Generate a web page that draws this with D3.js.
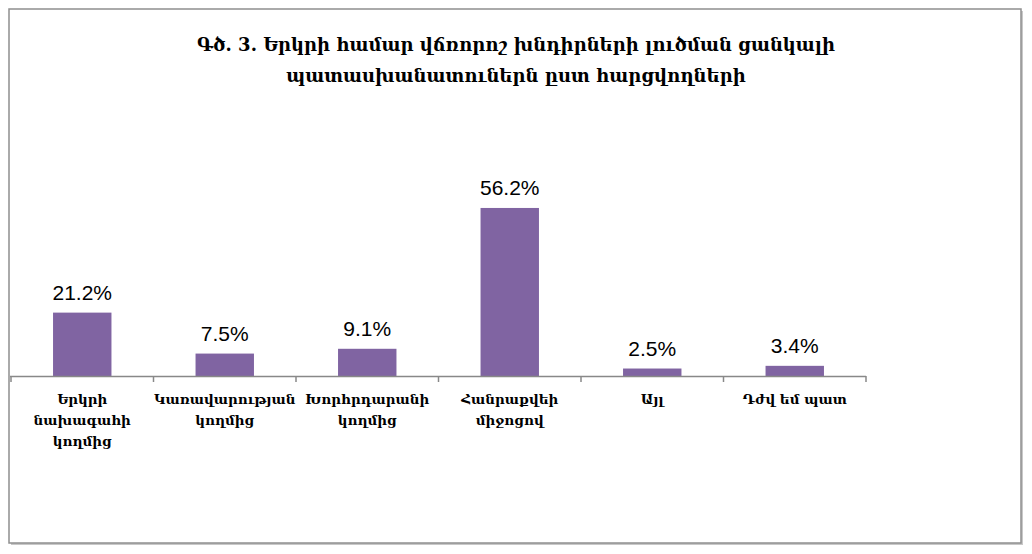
<!DOCTYPE html>
<html>
<head>
<meta charset="utf-8">
<script src="https://cdn.jsdelivr.net/npm/d3@7"></script>
<style>
  body { margin: 0; background: #fff; }
</style>
</head>
<body>
<svg id="chart"></svg>
<script>
const categories = [
  ["Երկրի", "նախագահի", "կողմից"],
  ["Կառավարության", "կողմից"],
  ["Խորհրդարանի", "կողմից"],
  ["Հանրաքվեի", "միջոցով"],
  ["Այլ"],
  ["Դժվ եմ պատ"]
];
const values = [21.2, 7.5, 9.1, 56.2, 2.5, 3.4];
const titleLines = [
  "Գծ. 3. Երկրի համար վճռորոշ խնդիրների լուծման ցանկալի",
  "պատասխանատուներն ըստ հարցվողների"
];

const W = 1032, H = 554;
const svg = d3.select("#chart").attr("width", W).attr("height", H);

// frame with a light shadow
svg.append("rect")
  .attr("x", 11).attr("y", 11).attr("width", 1012).attr("height", 534)
  .attr("fill", "#c8c8c8");
svg.append("rect")
  .attr("x", 9).attr("y", 9).attr("width", 1012).attr("height", 534)
  .attr("fill", "#fff").attr("stroke", "#8f8f8f").attr("stroke-width", 1.5);

// title
svg.append("text")
  .attr("x", 516).attr("y", 51)
  .attr("text-anchor", "middle")
  .style("font-family", "'DejaVu Serif', serif")
  .style("font-weight", "bold")
  .style("font-size", "18px")
  .selectAll("tspan")
  .data(titleLines)
  .enter().append("tspan")
  .attr("x", 516)
  .attr("dy", (d, i) => i === 0 ? 0 : 31)
  .text(d => d);

const x = d3.scaleBand()
  .domain(d3.range(categories.length))
  .range([11, 866])
  .paddingInner(0.59)
  .paddingOuter(0.295);

const y = d3.scaleLinear()
  .domain([0, 60])
  .range([376, 196.6]);

const g = svg.append("g");

g.selectAll(".bar")
  .data(values)
  .enter().append("rect")
  .attr("class", "bar")
  .attr("x", (d, i) => x(i))
  .attr("y", d => y(d))
  .attr("width", x.bandwidth())
  .attr("height", d => y(0) - y(d))
  .attr("fill", "#8064a2");

g.selectAll(".val")
  .data(values)
  .enter().append("text")
  .attr("class", "val")
  .attr("x", (d, i) => x(i) + x.bandwidth() / 2)
  .attr("y", d => y(d) - 13)
  .attr("text-anchor", "middle")
  .style("font-family", "Arial, 'Liberation Sans', sans-serif")
  .style("font-size", "21px")
  .attr("fill", "#000")
  .text(d => d.toFixed(1) + "%");

// axis line and ticks
const step = (866 - 11) / categories.length;
svg.append("line")
  .attr("x1", 10).attr("x2", 866).attr("y1", 376.5).attr("y2", 376.5)
  .attr("stroke", "#888").attr("stroke-width", 1.5);
svg.selectAll(".tick")
  .data(d3.range(categories.length + 1))
  .enter().append("line")
  .attr("x1", i => 11 + i * step).attr("x2", i => 11 + i * step)
  .attr("y1", 376).attr("y2", 382)
  .attr("stroke", "#888").attr("stroke-width", 1.5);

// category labels
const labels = svg.selectAll(".cat")
  .data(categories)
  .enter().append("text")
  .attr("class", "cat")
  .attr("text-anchor", "middle")
  .style("font-family", "'DejaVu Serif', serif")
  .style("font-weight", "bold")
  .style("font-size", "13.5px")
  .attr("fill", "#000");

labels.each(function(lines, i) {
  const cx = x(i) + x.bandwidth() / 2;
  d3.select(this).selectAll("tspan")
    .data(lines)
    .enter().append("tspan")
    .attr("x", cx)
    .attr("y", (d, j) => 404 + j * 21)
    .text(d => d);
});
</script>
</body>
</html>
